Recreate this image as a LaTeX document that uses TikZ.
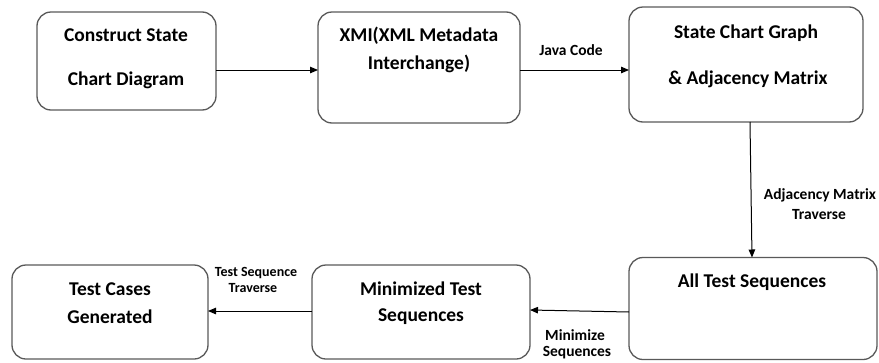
\documentclass[tikz,border=0pt]{standalone}
\usepackage{fontspec}
\setmainfont{Carlito}
\usetikzlibrary{arrows.meta}
\begin{document}
\begin{tikzpicture}[x=1pt,y=-1pt,
  box/.style={draw=black!65, line width=1.3pt, rounded corners=14pt,
    inner sep=0pt, outer sep=0pt},
  big/.style={font=\bfseries\fontsize{19.5}{22}\selectfont, inner sep=0pt},
  lbl/.style={font=\bfseries\fontsize{15.5}{18}\selectfont, inner sep=0pt},
  arr/.style={line width=1pt, -{Triangle[length=8pt,width=6.5pt]}}]
\useasboundingbox (0,0) rectangle (879,362);

% process boxes
\node[box, minimum width=179, minimum height=98]  (b1) at (126.5,61)  {};
\node[box, minimum width=202, minimum height=111] (b2) at (419,67.5)  {};
\node[box, minimum width=234, minimum height=115] (b3) at (746,64.5)  {};
\node[box, minimum width=248, minimum height=102] (b4) at (753,308.5) {};
\node[box, minimum width=218, minimum height=94]  (b5) at (421,312)   {};
\node[box, minimum width=196, minimum height=94]  (b6) at (110,312)   {};

% box texts
\node[big] (t1a) at (126,35) {Construct State};
\node[big] (t1b) at (126,80) {Chart Diagram};
\node[big] (t2a) at (419,36) {XMI(XML Metadata};
\node[big] (t2b) at (419,64) {Interchange)};
\node[big] (t3a) at (746,33) {State Chart Graph};
\node[big] (t3b) at (748,79) {\& Adjacency Matrix};
\node[big] (t4)  at (752,282) {All Test Sequences};
\node[big] (t5a) at (421,289) {Minimized Test};
\node[big] (t5b) at (421,317) {Sequences};
\node[big] (t6a) at (110,289) {Test Cases};
\node[big] (t6b) at (110,317) {Generated};

% connectors
\draw[arr] (b1.east |- 0,70) -- (b2.west |- 0,70);
\draw[arr] (b2.east |- 0,70) -- (b3.west |- 0,70);
\draw[arr] ([xshift=4pt]b3.south) -- ([xshift=-1pt]b4.north);
\draw[arr] (b4.west |- 0,312) -- (b5.east |- 0,310);
\draw[arr] (b5.west |- 0,311) -- (b6.east |- 0,311);

% connector labels
\node[lbl] (l1)  at (571,50)  {Java Code};
\node[lbl] (l2a) at (820,195) {Adjacency Matrix};
\node[lbl] (l2b) at (819,215) {Traverse};
\node[lbl] (l3a) at (575,335) {Minimize};
\node[lbl] (l3b) at (577,353) {Sequences};
\node[lbl, font=\bfseries\fontsize{14}{16}\selectfont] (l4a) at (256,273) {Test Sequence};
\node[lbl, font=\bfseries\fontsize{14}{16}\selectfont] (l4b) at (253,288) {Traverse};
\end{tikzpicture}
\end{document}
